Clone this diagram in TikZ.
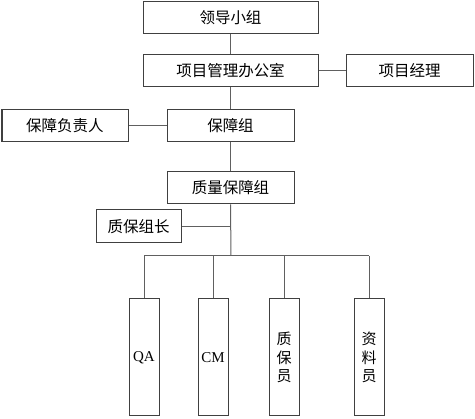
\documentclass[tikz,border=0pt]{standalone}
\usepackage{fontspec}
\setmainfont{Noto Sans CJK SC}
\newfontfamily\latinfont{Liberation Serif}
\begin{document}
\begin{tikzpicture}[x=1pt,y=-1pt,
  box/.style={draw=boxgrey, line width=1pt, minimum width=#1, minimum height=32pt, inner sep=0pt, font=\fontsize{15.5}{17}\selectfont},
  box/.default=127pt,
  tallbox/.style={draw=boxgrey, line width=1pt, minimum width=30pt, minimum height=117pt, inner sep=0pt, align=center, font=\fontsize{15}{18.5}\selectfont},
  line/.style={draw=linegrey, line width=1pt}]

% Colors
\definecolor{boxgrey}{RGB}{64,64,64}   % box border
\definecolor{linegrey}{RGB}{96,96,96}  % connector

\useasboundingbox (0,0) rectangle (475,419);

% === Top ===
\node[box=175pt] (lead) at (230.5,18) {领导小组};
\node[box=175pt] (office) at (230.5,71) {项目管理办公室};
\node[box] (pm) at (409.5,71) {项目经理};

% === Middle ===
\node[box=126pt] (resp) at (65,126) {保障负责人};
\node[box] (guard) at (230.5,126) {保障组};
\node[box] (qgroup) at (230.5,188) {质量保障组};
\node[box=85pt, minimum height=33pt] (leader) at (138.5,226.5) {质保组长};

% === Bottom ===
\node[tallbox] (qa) at (144,357.5) {\latinfont QA};
\node[tallbox] (cm) at (213,357.5) {\latinfont CM};
\node[tallbox] (qs) at (284,357.5) {质\\保\\员};
\node[tallbox] (doc) at (369,357.5) {资\\料\\员};

% === Lines ===
\coordinate (bar) at (231,256);
\draw[line] (lead) -- (office);
\draw[line] (office) -- (pm);
\draw[line] (office) -- (guard);
\draw[line] (guard) -- (resp);
\draw[line] (guard) -- (qgroup);
\draw[line] (qgroup.south) -- (bar);
\draw[line] (leader.east) -- (leader.east -| bar);
\draw[line] (qa.north |- bar) -- (doc.north |- bar);
\draw[line] (qa.north |- bar) -- (qa.north);
\draw[line] (cm.north |- bar) -- (cm.north);
\draw[line] (qs.north |- bar) -- (qs.north);
\draw[line] (doc.north |- bar) -- (doc.north);

\end{tikzpicture}
\end{document}
